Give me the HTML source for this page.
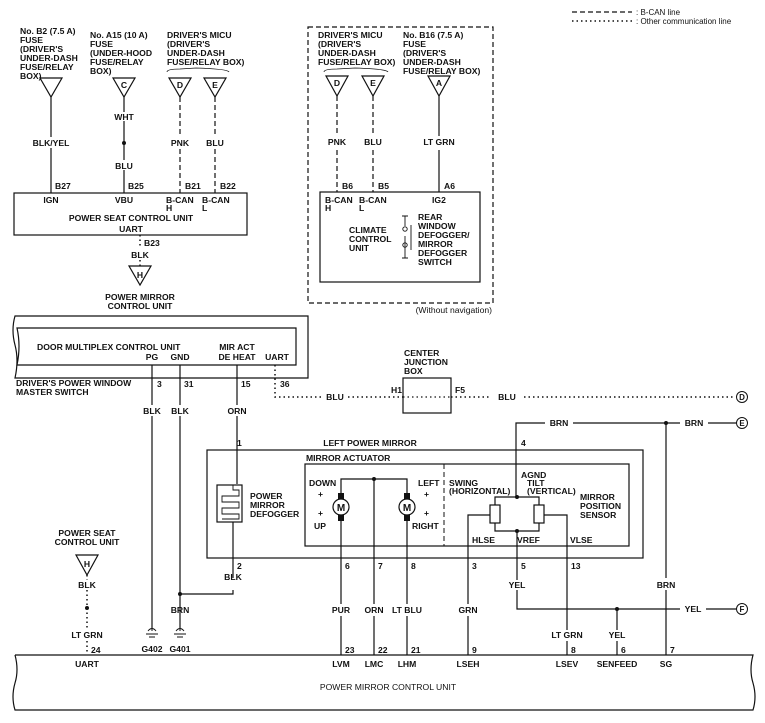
<!DOCTYPE html>
<html><head><meta charset="utf-8"><style>
html,body{margin:0;padding:0;background:#fff}
svg{display:block}
text{font-family:"Liberation Sans",sans-serif;font-size:8.6px;fill:#111;font-weight:bold}
</style></head><body>
<svg width="765" height="723" viewBox="0 0 765 723" xmlns="http://www.w3.org/2000/svg">
<g stroke="#111" fill="none" stroke-width="1.2">
<line x1="572" y1="12" x2="632" y2="12" stroke-dasharray="5,3"/>
<line x1="572" y1="21" x2="632" y2="21" stroke-dasharray="1.5,3" stroke-width="1.6"/>

<path d="M40,78 L62,78 L51,97 Z"/><path d="M113,78 L135,78 L124,97 Z"/>
<path d="M169,78 L191,78 L180,97 Z"/><path d="M204,78 L226,78 L215,97 Z"/>
<path d="M167,72 Q167,69 180,69 L196,68 Q228,69 229,72" stroke-width="0.8"/>
<line x1="51" y1="97" x2="51" y2="137"/><line x1="51" y1="148" x2="51" y2="193"/>
<line x1="124" y1="97" x2="124" y2="112"/><line x1="124" y1="121" x2="124" y2="160"/><line x1="124" y1="170" x2="124" y2="193"/>
<line x1="180" y1="97" x2="180" y2="136" stroke-dasharray="5,3"/><line x1="180" y1="149" x2="180" y2="193" stroke-dasharray="5,3"/>
<line x1="215" y1="97" x2="215" y2="136" stroke-dasharray="5,3"/><line x1="215" y1="149" x2="215" y2="193" stroke-dasharray="5,3"/>
<rect x="14" y="193" width="233" height="42"/>
<line x1="140" y1="235" x2="140" y2="248" stroke-dasharray="1.5,3" stroke-width="1.5"/>
<line x1="140" y1="260" x2="140" y2="266" stroke-dasharray="1.5,3" stroke-width="1.5"/>
<path d="M129,266 L151,266 L140,285 Z"/>

<rect x="308" y="27" width="185" height="276" stroke-dasharray="5,3"/>
<path d="M324,72 Q324,69 337,69 L355,68 Q387,69 388,72" stroke-width="0.8"/>
<path d="M326,76 L348,76 L337,96 Z"/><path d="M362,76 L384,76 L373,96 Z"/><path d="M428,76 L450,76 L439,96 Z"/>
<line x1="337" y1="96" x2="337" y2="136" stroke-dasharray="5,3"/><line x1="337" y1="150" x2="337" y2="192" stroke-dasharray="5,3"/>
<line x1="373" y1="96" x2="373" y2="136" stroke-dasharray="5,3"/><line x1="373" y1="150" x2="373" y2="192" stroke-dasharray="5,3"/>
<line x1="439" y1="96" x2="439" y2="136"/><line x1="439" y1="150" x2="439" y2="192"/>
<rect x="320" y="192" width="160" height="90"/>
<path d="M402,216 L408,216 M405,216 L405,226 M405,236 L405,258 M402,258 L408,258" stroke-width="0.9"/>
<circle cx="405" cy="229" r="2.2" stroke-width="0.9"/><circle cx="405" cy="245" r="2.2" stroke-width="0.9"/>
<line x1="411" y1="225" x2="411" y2="250" stroke-width="0.9"/>

<path d="M308,316 L15,316 Q11,330 15,345 Q19,360 15,378 L308,378 Z"/>
<path d="M296,328 L17,328 Q21,346 17,365 L296,365 Z"/>
<line x1="152" y1="365" x2="152" y2="405"/><line x1="152" y1="416" x2="152" y2="628"/>
<line x1="180" y1="365" x2="180" y2="405"/><line x1="180" y1="416" x2="180" y2="628"/>
<line x1="237" y1="365" x2="237" y2="405"/><line x1="237" y1="416" x2="237" y2="484"/>
<path d="M275,365 L275,397 L322,397 M348,397 L403,397 M451,397 L491,397 M524,397 L735,397" stroke-dasharray="1.5,3" stroke-width="1.5"/>
<rect x="403" y="378" width="48" height="35"/>
<path d="M403,397 L451,397" stroke-dasharray="1.5,3" stroke-width="1.2"/>
<circle cx="742" cy="397" r="5.5" stroke-width="1"/>

<path d="M516,497 L516,423 L545,423 M573,423 L680,423 M708,423 L736,423"/>
<circle cx="742" cy="423" r="5.5" stroke-width="1"/>
<line x1="666" y1="423" x2="666" y2="578"/><line x1="666" y1="590" x2="666" y2="655"/>

<rect x="207" y="450" width="436" height="108"/>
<rect x="305" y="464" width="324" height="82"/>
<line x1="444" y1="464" x2="444" y2="546" stroke-dasharray="5,3" stroke-width="1"/>
<rect x="217" y="485" width="25" height="37"/>
<path d="M233,485 L233,490 L239,490 L239,496 L222,496 L222,502 L239,502 L239,508 L222,508 L222,514 L239,514 L239,519 L222,519" stroke-width="0.9"/>
<path d="M233,522 L233,578 M233,590 L233,594 L180,594"/>
<path d="M341,495 L341,479 L407,479 L407,495"/>
<line x1="374" y1="479" x2="374" y2="604"/>
<circle cx="341" cy="507" r="8"/><circle cx="407" cy="507" r="8"/>
<line x1="341" y1="519" x2="341" y2="604"/><line x1="407" y1="519" x2="407" y2="604"/>
<line x1="341" y1="616" x2="341" y2="655"/><line x1="374" y1="616" x2="374" y2="655"/><line x1="407" y1="616" x2="407" y2="655"/>
<path d="M495,505 L495,497 L539,497 L539,505 M495,523 L495,531 L539,531 L539,523"/>
<rect x="490" y="505" width="10" height="18"/><rect x="534" y="505" width="10" height="18"/>
<path d="M490,515 L468,515 L468,604 M468,616 L468,655"/>
<path d="M544,515 L567,515 L567,630 M567,641 L567,655"/>
<path d="M517,531 L517,580 M517,590 L517,609 L680,609 M706,609 L736,609"/>
<circle cx="742" cy="609" r="5.5" stroke-width="1"/>
<path d="M617,609 L617,630 M617,641 L617,655"/>

<path d="M76,555 L98,555 L87,575 Z"/>
<path d="M87,575 L87,580 M87,590 L87,630 M87,641 L87,655" stroke-dasharray="1.5,3" stroke-width="1.5"/>

<path d="M152,628 L152,631 M148,631 Q152,626 156,631 M146,634 L158,634 M149,637 L155,637" stroke-width="1"/>
<path d="M180,628 L180,631 M176,631 Q180,626 184,631 M174,634 L186,634 M177,637 L183,637" stroke-width="1"/>

<path d="M15,655 L753,655 Q749,670 753,683 Q757,697 753,710 L15,710 Q11,697 15,683 Q19,670 15,655"/>
</g>
<g fill="#111">
<circle cx="124" cy="143" r="2"/><circle cx="374" cy="479" r="2"/><circle cx="517" cy="497" r="2"/><circle cx="517" cy="531" r="2"/>
<circle cx="666" cy="423" r="2"/><circle cx="617" cy="609" r="2"/><circle cx="180" cy="594" r="2"/><circle cx="87" cy="608" r="2"/>
<rect x="338" y="493" width="6" height="6"/><rect x="338" y="515" width="6" height="6"/>
<rect x="404" y="493" width="6" height="6"/><rect x="404" y="515" width="6" height="6"/>
</g>

<text x="636" y="15" style="font-weight:normal;font-size:8px">: B-CAN line</text>
<text x="636" y="24" style="font-weight:normal;font-size:8px">: Other communication line</text>

<text x="20" y="34">No. B2 (7.5 A)</text><text x="20" y="43">FUSE</text><text x="20" y="52">(DRIVER'S</text><text x="20" y="61">UNDER-DASH</text><text x="20" y="70">FUSE/RELAY</text><text x="20" y="79">BOX)</text>
<text x="90" y="38">No. A15 (10 A)</text><text x="90" y="47">FUSE</text><text x="90" y="56">(UNDER-HOOD</text><text x="90" y="65">FUSE/RELAY</text><text x="90" y="74">BOX)</text>
<text x="167" y="38">DRIVER'S MICU</text><text x="167" y="47">(DRIVER'S</text><text x="167" y="56">UNDER-DASH</text><text x="167" y="65">FUSE/RELAY BOX)</text>
<text x="124" y="88" text-anchor="middle">C</text><text x="180" y="88" text-anchor="middle">D</text><text x="215" y="88" text-anchor="middle">E</text>
<text x="51" y="146" text-anchor="middle">BLK/YEL</text><text x="124" y="120" text-anchor="middle">WHT</text><text x="124" y="169" text-anchor="middle">BLU</text>
<text x="180" y="146" text-anchor="middle">PNK</text><text x="215" y="146" text-anchor="middle">BLU</text>
<text x="55" y="189">B27</text><text x="128" y="189">B25</text><text x="185" y="189">B21</text><text x="220" y="189">B22</text>
<text x="51" y="203" text-anchor="middle">IGN</text><text x="124" y="203" text-anchor="middle">VBU</text>
<text x="166" y="203">B-CAN</text><text x="166" y="211">H</text><text x="202" y="203">B-CAN</text><text x="202" y="211">L</text>
<text x="131" y="221" text-anchor="middle">POWER SEAT CONTROL UNIT</text><text x="131" y="232" text-anchor="middle">UART</text>
<text x="144" y="246">B23</text><text x="140" y="258" text-anchor="middle">BLK</text><text x="140" y="278" text-anchor="middle">H</text>
<text x="140" y="300" text-anchor="middle">POWER MIRROR</text><text x="140" y="309" text-anchor="middle">CONTROL UNIT</text>

<text x="318" y="38">DRIVER'S MICU</text><text x="318" y="47">(DRIVER'S</text><text x="318" y="56">UNDER-DASH</text><text x="318" y="65">FUSE/RELAY BOX)</text>
<text x="403" y="38">No. B16 (7.5 A)</text><text x="403" y="47">FUSE</text><text x="403" y="56">(DRIVER'S</text><text x="403" y="65">UNDER-DASH</text><text x="403" y="74">FUSE/RELAY BOX)</text>
<text x="337" y="86" text-anchor="middle">D</text><text x="373" y="86" text-anchor="middle">E</text><text x="439" y="86" text-anchor="middle">A</text>
<text x="337" y="145" text-anchor="middle">PNK</text><text x="373" y="145" text-anchor="middle">BLU</text><text x="439" y="145" text-anchor="middle">LT GRN</text>
<text x="342" y="189">B6</text><text x="378" y="189">B5</text><text x="444" y="189">A6</text>
<text x="325" y="203">B-CAN</text><text x="325" y="211">H</text><text x="359" y="203">B-CAN</text><text x="359" y="211">L</text><text x="432" y="203">IG2</text>
<text x="349" y="233">CLIMATE</text><text x="349" y="242">CONTROL</text><text x="349" y="251">UNIT</text>
<text x="418" y="220">REAR</text><text x="418" y="229">WINDOW</text><text x="418" y="238">DEFOGGER/</text><text x="418" y="247">MIRROR</text><text x="418" y="256">DEFOGGER</text><text x="418" y="265">SWITCH</text>
<text x="492" y="313" text-anchor="end" style="font-weight:normal">(Without navigation)</text>

<text x="37" y="350">DOOR MULTIPLEX CONTROL UNIT</text>
<text x="152" y="360" text-anchor="middle">PG</text><text x="180" y="360" text-anchor="middle">GND</text>
<text x="237" y="350" text-anchor="middle">MIR ACT</text><text x="237" y="360" text-anchor="middle">DE HEAT</text><text x="277" y="360" text-anchor="middle">UART</text>
<text x="16" y="386">DRIVER'S POWER WINDOW</text><text x="16" y="395">MASTER SWITCH</text>
<text x="157" y="387">3</text><text x="184" y="387">31</text><text x="241" y="387">15</text><text x="280" y="387">36</text>
<text x="152" y="414" text-anchor="middle">BLK</text><text x="180" y="414" text-anchor="middle">BLK</text><text x="237" y="414" text-anchor="middle">ORN</text>
<text x="335" y="400" text-anchor="middle">BLU</text><text x="507" y="400" text-anchor="middle">BLU</text>
<text x="404" y="356">CENTER</text><text x="404" y="365">JUNCTION</text><text x="404" y="374">BOX</text>
<text x="391" y="393">H1</text><text x="455" y="393">F5</text>
<text x="742" y="400" text-anchor="middle" style="font-size:8px">D</text>
<text x="559" y="426" text-anchor="middle">BRN</text><text x="694" y="426" text-anchor="middle">BRN</text>
<text x="742" y="426" text-anchor="middle" style="font-size:8px">E</text>
<text x="237" y="446">1</text><text x="370" y="446" text-anchor="middle">LEFT POWER MIRROR</text><text x="521" y="446">4</text>
<text x="306" y="461">MIRROR ACTUATOR</text>
<text x="250" y="499">POWER</text><text x="250" y="508">MIRROR</text><text x="250" y="517">DEFOGGER</text>
<text x="309" y="486">DOWN</text><text x="318" y="497">+</text><text x="318" y="516">+</text><text x="314" y="529">UP</text>
<text x="418" y="486">LEFT</text><text x="424" y="497">+</text><text x="424" y="516">+</text><text x="412" y="529">RIGHT</text>
<text x="341" y="511" text-anchor="middle" style="font-size:10px">M</text><text x="407" y="511" text-anchor="middle" style="font-size:10px">M</text>
<text x="449" y="486">SWING</text><text x="449" y="494">(HORIZONTAL)</text>
<text x="521" y="478">AGND</text><text x="527" y="486">TILT</text><text x="527" y="494">(VERTICAL)</text>
<text x="580" y="500">MIRROR</text><text x="580" y="509">POSITION</text><text x="580" y="518">SENSOR</text>
<text x="472" y="543">HLSE</text><text x="517" y="543">VREF</text><text x="570" y="543">VLSE</text>
<text x="237" y="569">2</text><text x="233" y="580" text-anchor="middle">BLK</text>
<text x="345" y="569">6</text><text x="378" y="569">7</text><text x="411" y="569">8</text><text x="472" y="569">3</text><text x="521" y="569">5</text><text x="571" y="569">13</text>
<text x="517" y="588" text-anchor="middle">YEL</text><text x="666" y="588" text-anchor="middle">BRN</text>
<text x="180" y="613" text-anchor="middle">BRN</text>
<text x="341" y="613" text-anchor="middle">PUR</text><text x="374" y="613" text-anchor="middle">ORN</text><text x="407" y="613" text-anchor="middle">LT BLU</text><text x="468" y="613" text-anchor="middle">GRN</text>
<text x="693" y="612" text-anchor="middle">YEL</text><text x="742" y="612" text-anchor="middle" style="font-size:8px">F</text>
<text x="87" y="536" text-anchor="middle">POWER SEAT</text><text x="87" y="545" text-anchor="middle">CONTROL UNIT</text><text x="87" y="567" text-anchor="middle">H</text>
<text x="87" y="588" text-anchor="middle">BLK</text><text x="87" y="638" text-anchor="middle">LT GRN</text>
<text x="567" y="638" text-anchor="middle">LT GRN</text><text x="617" y="638" text-anchor="middle">YEL</text>
<text x="152" y="652" text-anchor="middle">G402</text><text x="180" y="652" text-anchor="middle">G401</text>
<text x="91" y="653">24</text><text x="345" y="653">23</text><text x="378" y="653">22</text><text x="411" y="653">21</text><text x="472" y="653">9</text><text x="571" y="653">8</text><text x="621" y="653">6</text><text x="670" y="653">7</text>
<text x="87" y="667" text-anchor="middle">UART</text><text x="341" y="667" text-anchor="middle">LVM</text><text x="374" y="667" text-anchor="middle">LMC</text><text x="407" y="667" text-anchor="middle">LHM</text><text x="468" y="667" text-anchor="middle">LSEH</text><text x="567" y="667" text-anchor="middle">LSEV</text><text x="617" y="667" text-anchor="middle">SENFEED</text><text x="666" y="667" text-anchor="middle">SG</text>
<text x="388" y="690" text-anchor="middle" style="font-weight:normal">POWER MIRROR CONTROL UNIT</text>
</svg>
</body></html>
